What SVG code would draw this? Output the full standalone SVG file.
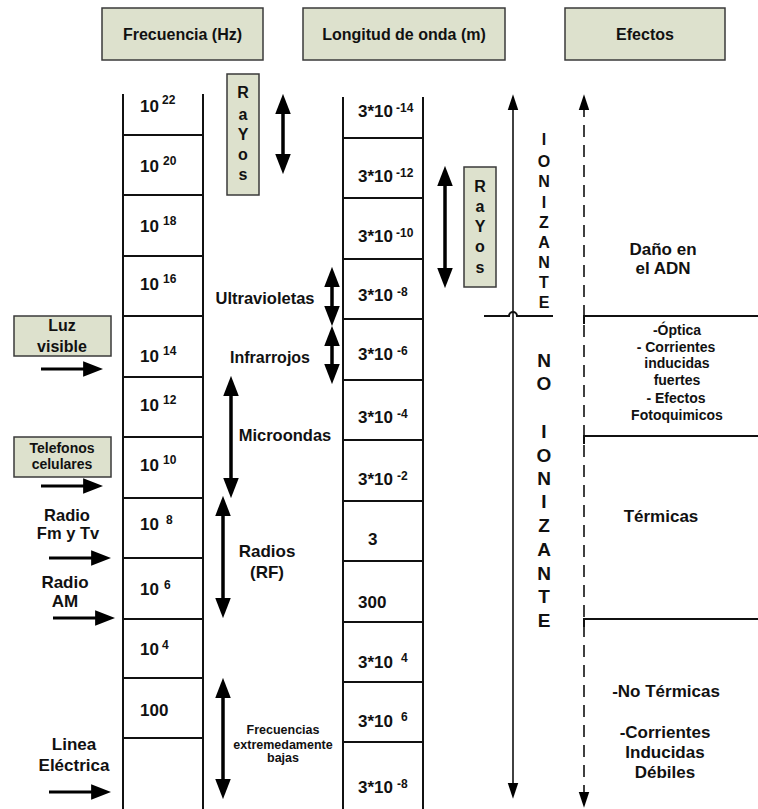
<svg xmlns="http://www.w3.org/2000/svg" width="758" height="809" viewBox="0 0 758 809">
<style>
text{font-family:"Liberation Sans",Arial,sans-serif;font-weight:bold;fill:#111}
.box{fill:#DDE1CD;stroke:#3a3a3a;stroke-width:1.5}
.grid{stroke:#111;stroke-width:2;fill:none}
.big{font-size:17px}
.sup{font-size:12px}
.hdr{font-size:16px;text-anchor:middle}
.mid{text-anchor:middle}
.thick{stroke:#000;stroke-width:3.5;fill:none;marker-start:url(#hd);marker-end:url(#hd)}
.side{stroke:#000;stroke-width:3;fill:none;marker-end:url(#hd)}
.thin{stroke:#111;stroke-width:1.6;fill:none;marker-start:url(#th);marker-end:url(#th)}
.dash{stroke-dasharray:12 8}
.lt{font-size:16px;text-anchor:middle}
.vl{font-size:16px;text-anchor:middle}
.vl2{font-size:19px;text-anchor:middle}
</style>
<defs>
<marker id="hd" markerUnits="userSpaceOnUse" markerWidth="20" markerHeight="16" refX="8" refY="7" orient="auto-start-reverse" viewBox="0 0 18 14"><path d="M0,0 L18,7 L0,14 z" fill="#000"/></marker>
<marker id="th" markerUnits="userSpaceOnUse" markerWidth="16" markerHeight="12" refX="5" refY="5" orient="auto-start-reverse" viewBox="0 0 15 10"><path d="M0,0 L15,5 L0,10 z" fill="#000"/></marker>
</defs>

<!-- headers -->
<g id="hdr-freq"><rect class="box" x="102" y="8" width="161" height="52"/><text class="hdr" x="182.5" y="40">Frecuencia (Hz)</text></g>
<g id="hdr-long"><rect class="box" x="303" y="8" width="202" height="52"/><text class="hdr" x="404" y="40">Longitud de onda (m)</text></g>
<g id="hdr-efec"><rect class="box" x="565" y="8" width="160" height="52"/><text class="hdr" x="645" y="40">Efectos</text></g>

<!-- frequency column grid -->
<g id="freq-grid" class="grid">
<path d="M123,94 V809 M203,94 V809"/>
<path d="M123,135 H203 M123,195 H203 M123,256 H203 M123,316 H203 M123,377 H203 M123,437 H203 M123,498 H203 M123,558 H203 M123,619 H203 M123,678 H203 M123,738 H203"/>
</g>
<g id="f22"><text class="big" x="140" y="112">10</text><text class="sup" x="162" y="104">22</text></g>
<g id="f20"><text class="big" x="140" y="172">10</text><text class="sup" x="163" y="165">20</text></g>
<g id="f18"><text class="big" x="140" y="232">10</text><text class="sup" x="163" y="225">18</text></g>
<g id="f16"><text class="big" x="140" y="290">10</text><text class="sup" x="163" y="283">16</text></g>
<g id="f14"><text class="big" x="140" y="362">10</text><text class="sup" x="163" y="355">14</text></g>
<g id="f12"><text class="big" x="140" y="411">10</text><text class="sup" x="163" y="404">12</text></g>
<g id="f10"><text class="big" x="140" y="471">10</text><text class="sup" x="163" y="464">10</text></g>
<g id="f8"><text class="big" x="140" y="530">10</text><text class="sup" x="166" y="524">8</text></g>
<g id="f6"><text class="big" x="140" y="595">10</text><text class="sup" x="164" y="589">6</text></g>
<g id="f4"><text class="big" x="140" y="655">10</text><text class="sup" x="162" y="649">4</text></g>
<g id="f2"><text class="big" x="140" y="716">100</text></g>

<!-- wavelength column grid -->
<g id="long-grid" class="grid">
<path d="M343,97 V809 M423,97 V809"/>
<path d="M343,138 H423 M343,198 H423 M343,259 H423 M343,319 H423 M343,380 H423 M343,440 H423 M343,501 H423 M343,561 H423 M343,622 H423 M343,682 H423 M343,742 H423"/>
</g>
<g id="w14"><text class="big" x="358" y="117">3*10</text><text class="sup" x="396" y="112">-14</text></g>
<g id="w12"><text class="big" x="358" y="182">3*10</text><text class="sup" x="396" y="177">-12</text></g>
<g id="w10"><text class="big" x="358" y="242">3*10</text><text class="sup" x="396" y="237">-10</text></g>
<g id="w8"><text class="big" x="358" y="301">3*10</text><text class="sup" x="397" y="296">-8</text></g>
<g id="w6"><text class="big" x="358" y="360">3*10</text><text class="sup" x="397" y="355">-6</text></g>
<g id="w4"><text class="big" x="358" y="423">3*10</text><text class="sup" x="397" y="418">-4</text></g>
<g id="w2"><text class="big" x="358" y="485">3*10</text><text class="sup" x="397" y="480">-2</text></g>
<g id="w0"><text class="big" x="368" y="545">3</text></g>
<g id="w300"><text class="big" x="358" y="608">300</text></g>
<g id="wp4"><text class="big" x="358" y="668">3*10</text><text class="sup" x="401" y="662">4</text></g>
<g id="wp6"><text class="big" x="358" y="727">3*10</text><text class="sup" x="401" y="721">6</text></g>
<g id="wm8"><text class="big" x="358" y="793">3*10</text><text class="sup" x="397" y="788">-8</text></g>

<!-- RaYos boxes -->
<g id="rayos1"><rect class="box" x="227" y="74" width="32" height="121"/>
<text class="vl" x="243" y="98">R</text><text class="vl" x="243" y="120">a</text><text class="vl" x="243" y="140">Y</text><text class="vl" x="243" y="160">o</text><text class="vl" x="243" y="180">s</text></g>
<g id="rayos2"><rect class="box" x="464" y="167" width="32" height="120"/>
<text class="vl" x="480" y="192">R</text><text class="vl" x="480" y="212">a</text><text class="vl" x="480" y="232">Y</text><text class="vl" x="480" y="252">o</text><text class="vl" x="480" y="273">s</text></g>

<!-- band labels -->
<g id="uv"><text class="mid" style="font-size:16.5px" x="265" y="304">Ultravioletas</text></g>
<g id="ir"><text class="mid" style="font-size:16px" x="270" y="363">Infrarrojos</text></g>
<g id="mw"><text class="mid" style="font-size:16.5px" x="285" y="441">Microondas</text></g>
<g id="rf"><text class="mid big" x="267" y="557">Radios</text><text class="mid big" x="267" y="578">(RF)</text></g>
<g id="elf"><text class="mid" style="font-size:12.5px" x="283" y="734">Frecuencias</text><text class="mid" style="font-size:12.5px" x="283" y="749">extremedamente</text><text class="mid" style="font-size:12.5px" x="283" y="762">bajas</text></g>

<!-- left labels -->
<g id="luz"><rect class="box" x="14" y="316" width="97" height="40"/><text class="lt" x="62" y="331">Luz</text><text class="lt" x="62" y="352">visible</text></g>
<g id="tel"><rect class="box" x="14" y="437" width="97" height="40"/><text class="mid" style="font-size:14px" x="62" y="453">Telefonos</text><text class="mid" style="font-size:14px" x="62" y="469">celulares</text></g>
<g id="fm"><text class="mid" style="font-size:16.5px" x="67" y="521">Radio</text><text class="mid" style="font-size:16.5px" x="68" y="539">Fm y Tv</text></g>
<g id="am"><text class="mid big" x="65" y="588">Radio</text><text class="mid big" x="65" y="607">AM</text></g>
<g id="linea"><text class="mid big" x="74" y="750">Linea</text><text class="mid big" x="74" y="771">Eléctrica</text></g>

<!-- ionizante -->
<g id="ion">
<text class="vl" x="544" y="145">I</text><text class="vl" x="544" y="167">O</text><text class="vl" x="544" y="187">N</text><text class="vl" x="544" y="208">I</text><text class="vl" x="544" y="228">Z</text><text class="vl" x="544" y="248">A</text><text class="vl" x="544" y="268">N</text><text class="vl" x="544" y="288">T</text><text class="vl" x="544" y="308">E</text>
</g>
<g id="noion">
<text class="vl2" x="544" y="367">N</text><text class="vl2" x="544" y="390">O</text><text class="vl2" x="544" y="438">I</text><text class="vl2" x="544" y="462">O</text><text class="vl2" x="544" y="485">N</text><text class="vl2" x="544" y="508">I</text><text class="vl2" x="544" y="532">Z</text><text class="vl2" x="544" y="556">A</text><text class="vl2" x="544" y="580">N</text><text class="vl2" x="544" y="603">T</text><text class="vl2" x="544" y="627">E</text>
</g>

<!-- effects -->
<g id="dna"><text class="mid big" x="663" y="255">Daño en</text><text class="mid big" x="663" y="274">el ADN</text></g>
<g id="optica" style="font-size:14px">
<text class="mid" x="677" y="335">-Óptica</text><text class="mid" x="676" y="352">- Corrientes</text><text class="mid" x="677" y="368">inducidas</text><text class="mid" x="677" y="385">fuertes</text><text class="mid" x="676" y="403">- Efectos</text><text class="mid" x="677" y="420">Fotoquimicos</text>
</g>
<g id="term"><text class="mid big" x="661" y="522">Térmicas</text></g>
<g id="noterm"><text class="mid big" x="666" y="697">-No Térmicas</text><text class="mid big" x="665" y="738">-Corrientes</text><text class="mid big" x="665" y="758">Inducidas</text><text class="mid big" x="665" y="778">Débiles</text></g>

<!-- connectors -->
<g id="connectors">
<path class="thick" d="M283,105 V163"/>
<path class="thick" d="M445,177 V277"/>
<path class="thick" d="M332,278 V315"/>
<path class="thick" d="M332,337 V373"/>
<path class="thick" d="M231,387 V487"/>
<path class="thick" d="M223,507 V607"/>
<path class="thick" d="M223,689 V788"/>
<path class="side" d="M41,369 H92"/>
<path class="side" d="M41,486 H92"/>
<path class="side" d="M49,558 H100"/>
<path class="side" d="M53,618 H104"/>
<path class="side" d="M49,792 H100"/>
<path class="thin" d="M513,105 V788"/>
<path class="thin dash" d="M584,105 V797"/>
<path class="grid" d="M484,316 H509 A4,4 0 0 1 517,316 H553"/>
<path class="grid" d="M584,324 V316 H758"/>
<path class="grid" d="M584,444 V436 H758"/>
<path class="grid" d="M584,627 V619 H758"/>
</g>
</svg>
